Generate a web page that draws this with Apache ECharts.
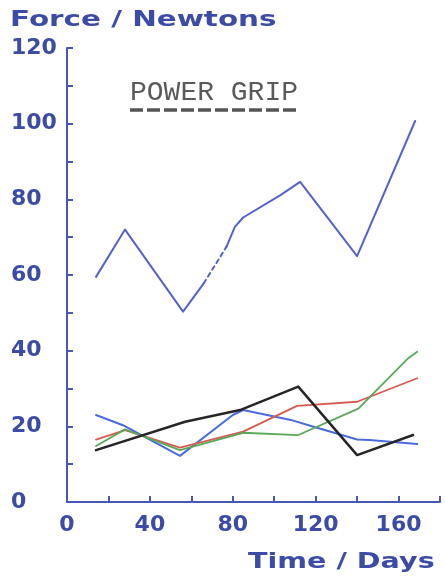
<!DOCTYPE html>
<html><head><meta charset="utf-8">
<script src="https://cdn.jsdelivr.net/npm/echarts@6/dist/echarts.min.js"></script>
<style>html,body{margin:0;padding:0;background:#fff}#c{width:445px;height:582px}</style>
</head><body><div id="c"></div>
<script>
// ---- data ----
const xTicks = [0, 40, 80, 120, 160];
const yTicks = [0, 20, 40, 60, 80, 100, 120];
// upper (power grip, blue) trace, split where the pen drew a dashed stretch
const topDaysA = [14, 28, 56, 66];
const topForceA = [59.5, 72, 50.3, 57.8];
const topDaysDash = [66, 77];
const topForceDash = [57.8, 67.5];
const topDaysB = [77, 81, 85, 103, 112.5, 140, 168];
const topForceB = [67.5, 72.7, 75.2, 81.1, 84.6, 65, 100.7];
// lower traces
const blueDays = [14, 27, 54.5, 80, 85, 108, 119, 140, 146, 169];
const blueForce = [23, 20.3, 12.2, 23, 24.3, 21.7, 19.9, 16.5, 16.4, 15.3];
const redDays = [14, 28, 54.5, 85, 111, 140, 169];
const redForce = [16.5, 19, 14.4, 18.6, 25.4, 26.5, 32.7];
const greenDays = [14, 28, 54.5, 85, 111.6, 140.6, 164.7, 169];
const greenForce = [14.8, 19.2, 13.7, 18.3, 17.7, 24.7, 38, 39.7];
const blackDays = [14, 57, 83.5, 111.6, 140, 167];
const blackForce = [13.7, 21.2, 24.3, 30.5, 12.4, 17.7];
const titleText = 'POWER GRIP';
const yName = 'Force / Newtons';
const xName = 'Time / Days';

const pair = (xs, ys) => xs.map((x, i) => [x, ys[i]]);
const axisCol = '#4757b6';
const textCol = '#3c4ca6';

function lineSeries(name, xs, ys, color, width, type) {
  return {
    name: name, type: 'line', data: pair(xs, ys), symbol: 'none',
    lineStyle: { color: color, width: width, type: type || 'solid', cap: 'round', join: 'round' },
    silent: true, animation: false
  };
}

const chart = echarts.init(document.getElementById('c'), null, { renderer: 'canvas' });
chart.setOption({
  backgroundColor: '#ffffff',
  animation: false,
  grid: { left: 67, right: 5, top: 48, bottom: 80, containLabel: false },
  xAxis: {
    type: 'value', min: 0, max: 180, interval: 20,
    axisLine: { show: true, lineStyle: { color: axisCol, width: 2 } },
    axisTick: { show: true, inside: true, length: 6, lineStyle: { color: axisCol, width: 2 } },
    splitLine: { show: false },
    axisLabel: {
      color: textCol, fontFamily: 'DejaVu Sans', fontWeight: 'bold', fontSize: 22, margin: 12,
      formatter: v => (xTicks.indexOf(v) >= 0 ? String(v) : '')
    }
  },
  yAxis: {
    type: 'value', min: 0, max: 120, interval: 10,
    axisLine: { show: true, lineStyle: { color: axisCol, width: 2 } },
    axisTick: { show: true, inside: true, length: 6, lineStyle: { color: axisCol, width: 2 } },
    splitLine: { show: false },
    axisLabel: {
      color: textCol, fontFamily: 'DejaVu Sans', fontWeight: 'bold', fontSize: 22, margin: 56, align: 'left',
      padding: [7, 0, 0, 0],
      formatter: v => (yTicks.indexOf(v) >= 0 ? String(v) : '')
    }
  },
  graphic: [
    { type: 'text', x: 10, y: 21, scaleX: 1.4, silent: true,
      style: { text: yName, font: 'bold 21px "DejaVu Sans"', fill: textCol, textVerticalAlign: 'middle' } },
    { type: 'text', x: 248, y: 562, scaleX: 1.3, silent: true,
      style: { text: xName, font: 'bold 22px "DejaVu Sans"', fill: textCol, textVerticalAlign: 'middle' } },
    { type: 'text', x: 130, y: 93, silent: true,
      style: { text: titleText, font: '28px "Liberation Mono"', fill: '#5a5a5a', textVerticalAlign: 'middle' } },
    { type: 'line', silent: true,
      shape: { x1: 130, y1: 110, x2: 300, y2: 110 },
      style: { stroke: '#555', lineWidth: 3.5, lineDash: [13, 4] } }
  ],
  series: [
    lineSeries('top A', topDaysA, topForceA, '#5562cc', 2),
    lineSeries('top dash', topDaysDash, topForceDash, '#5562cc', 2, [4, 4]),
    lineSeries('top B', topDaysB, topForceB, '#5562cc', 2),
    lineSeries('blue', blueDays, blueForce, '#4b6bdc', 2),
    lineSeries('red', redDays, redForce, '#d65a50', 1.8),
    lineSeries('green', greenDays, greenForce, '#5aa85a', 1.8),
    lineSeries('black', blackDays, blackForce, '#262626', 2.5)
  ]
});
</script></body></html>
